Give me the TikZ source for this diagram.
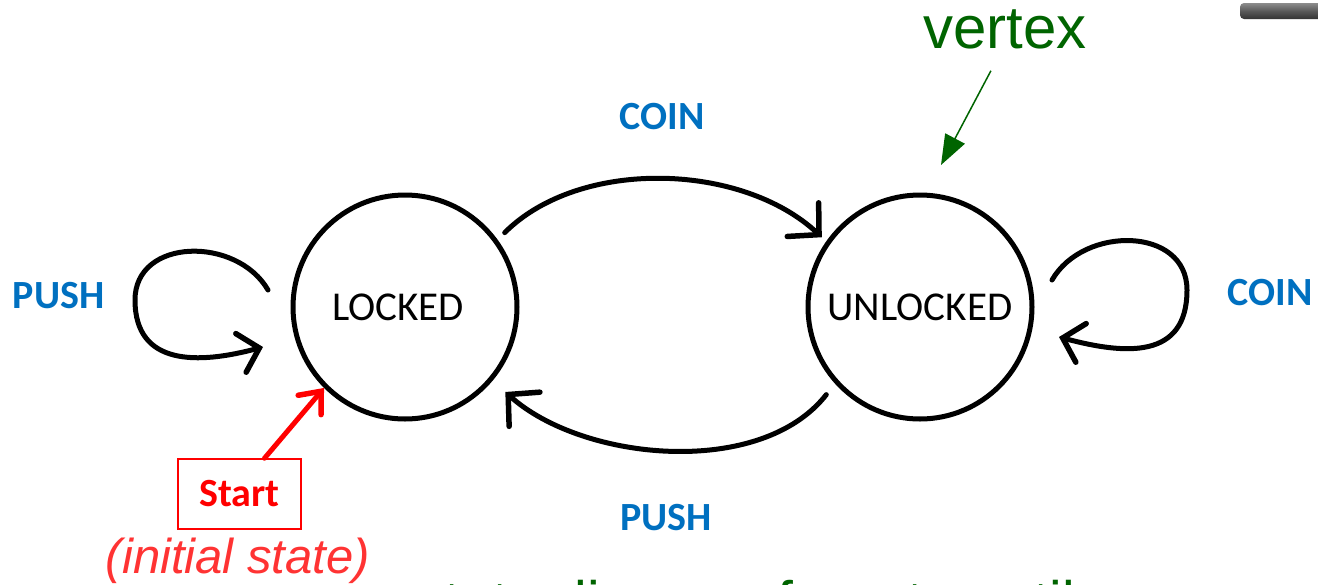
\documentclass[tikz,border=0pt]{standalone}
\usepackage{fontspec}
\setmainfont{Liberation Sans}
\newfontfamily\carlito{Carlito}
\usetikzlibrary{arrows.meta,calc}
\definecolor{cblue}{RGB}{0,112,192}
\definecolor{vgreen}{RGB}{0,100,0}
\definecolor{sred}{RGB}{255,0,0}
\definecolor{ired}{RGB}{255,51,51}
\begin{document}
\begin{tikzpicture}[x=1pt,y=1pt,
  state/.style={circle,draw=black,line width=5pt,minimum size=224pt,inner sep=0pt,
    font=\carlito\fontsize{41}{41}\selectfont},
  lbl/.style={text=cblue,font=\carlito\bfseries\fontsize{40}{40}\selectfont,anchor=base,inner sep=0pt},
  trans/.style={line width=5pt,line cap=round,line join=round,
    -{Straight Barb[length=22pt,width=46pt,line width=5.5pt,line cap=round]}},
  looptrans/.style={line width=5pt,line cap=round,line join=round,
    -{Straight Barb[length=19pt,width=40pt,line width=5.5pt,line cap=round]}},
  startarrow/.style={draw=sred,line width=5pt,line cap=round,
    -{Straight Barb[length=18pt,width=30pt,line width=5.5pt,line cap=round]}},
  vtxarrow/.style={draw=vgreen,line width=1.5pt,-{Triangle[length=30pt,width=22pt]}}
]
\useasboundingbox (0,0) rectangle (1318,-584);
\fill[white] (0,0) rectangle (1318,-584);
\clip (0,0) rectangle (1318,-584);

% states
\node[state] (locked) at (405,-307) {LOCKED\hspace*{14pt}};
\node[state] (unlocked) at (920,-307) {UNLOCKED};

% transitions
\draw[trans,shorten <=10pt,shorten >=6pt] (locked.36) to[out=45,in=137,looseness=0.9] (unlocked.145);
\draw[trans,shorten <=14pt,shorten >=17pt] (unlocked.222) to[out=232,in=-42,looseness=0.9] (locked.320);
\draw[looptrans] ([shift={(-137,17)}]locked.center)
   to[out=120,in=90,looseness=1.2] ([shift={(-270,7)}]locked.center)
   to[out=-90,in=195,looseness=1.25] ([shift={(-142,-40)}]locked.center);
\draw[looptrans] ([shift={(132,27)}]unlocked.center)
   to[out=60,in=90,looseness=1.2] ([shift={(267,17)}]unlocked.center)
   to[out=-90,in=-15,looseness=1.3] ([shift={(139,-30)}]unlocked.center);

% labels
\node[lbl] (coin1) at (662,-129) {COIN};
\node[lbl] (push1) at (58.5,-308) {PUSH};
\node[lbl] (coin2) at (1270,-305) {COIN};
\node[lbl] (push2) at (666,-530) {PUSH};

% start
\node[draw=sred,line width=1.5pt,minimum width=123pt,minimum height=70pt,inner sep=0pt,
  text=sred,font=\carlito\bfseries\fontsize{40}{40}\selectfont] (start) at (239.5,-494) {Start};
\node[anchor=base,inner sep=0pt,text=ired,font=\itshape\fontsize{49}{49}\selectfont] (init) at (238,-573) {(initial state)};
\draw[startarrow] ([xshift=25pt]start.north) -- (locked.225);

% vertex
\node[anchor=base west,inner sep=0pt,text=vgreen,font=\fontsize{60}{60}\selectfont] (vertex) at (923,-48) {vertex};
\coordinate (vtip) at (941,-165);
\draw[vtxarrow] ([shift={(-14,-22)}]vertex.south) -- (vtip);

% cut-off caption
\node[anchor=base west,inner sep=0pt,text=vgreen,font=\fontsize{57}{57}\selectfont] (caption) at (416,-621) {state diagram for a turnstile};

% gray bar (partial)
\shade[top color=black!45,bottom color=black!80,middle color=black!65,rounded corners=4pt] (1240,-3) rectangle (1330,-19);
\end{tikzpicture}
\end{document}
